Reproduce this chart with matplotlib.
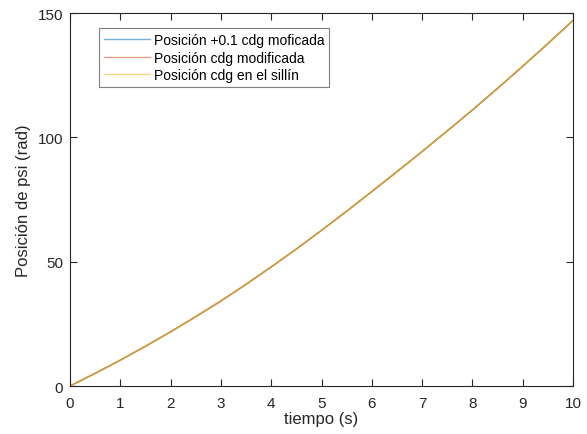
import numpy as np
import matplotlib.pyplot as plt

plt.rcParams['font.family'] = ['Liberation Sans', 'DejaVu Sans']

# Datos
tiempo = [0, 0.5, 1, 1.5, 2, 2.5, 3, 3.5, 4, 4.5, 5, 5.5, 6, 6.5, 7, 7.5, 8, 8.5, 9, 9.5, 10]
psi_mas01 = [0, 5.1, 10.4, 16.0, 21.8, 27.9, 34.2, 40.9, 47.9, 55.1, 62.6, 70.3, 78.2, 86.2, 94.3, 102.6, 111.0, 119.7, 128.6, 137.7, 147.0]
psi_mod = [0, 5.1, 10.4, 16.0, 21.8, 27.9, 34.2, 40.9, 47.9, 55.1, 62.6, 70.3, 78.2, 86.2, 94.3, 102.6, 111.0, 119.7, 128.6, 137.7, 147.0]
psi_sillin = [0, 5.1, 10.4, 16.0, 21.8, 27.9, 34.2, 40.9, 47.9, 55.1, 62.6, 70.3, 78.2, 86.2, 94.3, 102.6, 111.0, 119.7, 128.6, 137.7, 147.0]
etiquetas = ['Posición +0.1 cdg moficada', 'Posición cdg modificada', 'Posición cdg en el sillín']
colores = ['#0072BD', '#D95319', '#EDB120']

fig = plt.figure(figsize=(5.87, 4.35), dpi=100)
ax = fig.add_axes([0.1193, 0.1103, 0.8569, 0.8575])

for y, lab, c in zip([psi_mas01, psi_mod, psi_sillin], etiquetas, colores):
    ax.plot(tiempo, y, color=c, lw=1, label=lab, alpha=0.75)

ax.set_xlim(0, 10)
ax.set_ylim(0, 150)
ax.set_xticks(range(0, 11))
ax.set_yticks([0, 50, 100, 150])
ax.tick_params(direction='in', length=5, width=0.8, top=True, right=True,
               labelsize=11, colors='#262626')
ax.tick_params(axis='x', pad=7)
ax.tick_params(axis='y', pad=5)
for s in ax.spines.values():
    s.set_color('#262626')
    s.set_linewidth(0.8)
ax.set_xlabel('tiempo (s)', fontsize=12, color='#262626', labelpad=1)
ax.set_ylabel('Posición de psi (rad)', fontsize=12, color='#262626', labelpad=5)

leg = ax.legend(loc='upper left', bbox_to_anchor=(0.0577, 0.959), borderaxespad=0,
                fontsize=10, fancybox=False, edgecolor='#7f7f7f', framealpha=1,
                handlelength=3.3, handletextpad=0.3, labelspacing=0.25,
                borderpad=0.35)
leg.get_frame().set_linewidth(0.8)
for t in leg.get_texts():
    t.set_color('#000000')
for h in leg.get_lines():
    h.set_alpha(0.55)

fig.savefig('out.png', dpi=100)
